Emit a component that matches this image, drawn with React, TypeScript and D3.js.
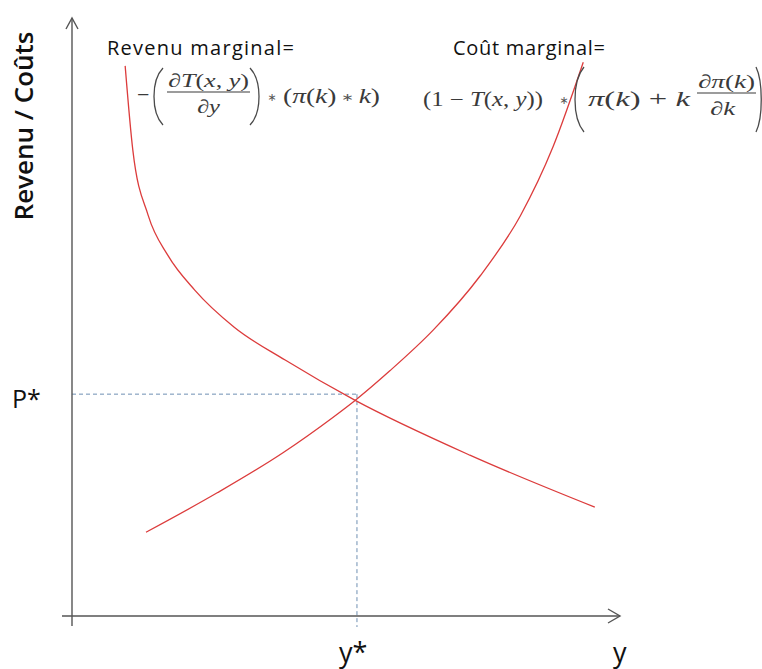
import React from "react";
import * as d3 from "d3";

// Marginal revenue curve (decreasing)
const revenueX = [0.97, 1.11, 1.39, 1.75, 2.24, 2.96, 3.89, 5.16, 7.26, 9.54];
const revenueY = [9.2, 7.79, 6.7, 6.03, 5.45, 4.83, 4.28, 3.61, 2.69, 1.82];

// Marginal cost curve (increasing)
const costX = [1.35, 2.65, 3.85, 4.76, 5.16, 5.8, 6.59, 7.45, 8.18, 8.78, 9.33];
const costY = [1.4, 2.06, 2.73, 3.32, 3.6, 4.1, 4.78, 5.69, 6.69, 7.85, 9.26];

// Equilibrium point
const equilibriumX = [5.2];
const equilibriumY = [3.71];

const axisTitles = ["Revenu / Coûts", "y"];
const equilibriumLabels = ["P*", "y*"];
const curveTitles = ["Revenu marginal=", "Coût marginal="];

const W = 762;
const H = 669;

export default function App() {
  const x = d3.scaleLinear().domain([0, 10]).range([72, 620]);
  const y = d3.scaleLinear().domain([0, 10]).range([616, 18]);

  const line = d3
    .line<[number, number]>()
    .x((d) => x(d[0]))
    .y((d) => y(d[1]))
    .curve(d3.curveMonotoneX);

  const revenue = revenueX.map((v, i) => [v, revenueY[i]] as [number, number]);
  const cost = costX.map((v, i) => [v, costY[i]] as [number, number]);

  const x0 = x(0);
  const y0 = y(0);
  const xEnd = x(10);
  const yEnd = y(10);
  const ex = x(equilibriumX[0]);
  const ey = y(equilibriumY[0]);

  const axisColor = "#555";
  const red = "#dc3c3c";
  const dash = "#6f8fb3";
  const mathFont = "'Liberation Serif', 'DejaVu Serif', serif";
  const sans = "'Open Sans', 'DejaVu Sans', sans-serif";
  const mathColor = "#3a3a3a";
  const parenColor = "#4a4a4a";
  const star = "'DejaVu Sans', sans-serif";

  const leftParen = (xr: number, top: number, bottom: number, depth: number) =>
    `M${xr},${top} C${xr - depth},${top + (bottom - top) * 0.22} ${xr - depth},${bottom - (bottom - top) * 0.22} ${xr},${bottom}`;
  const rightParen = (xl: number, top: number, bottom: number, depth: number) =>
    `M${xl},${top} C${xl + depth},${top + (bottom - top) * 0.22} ${xl + depth},${bottom - (bottom - top) * 0.22} ${xl},${bottom}`;

  return (
    <svg
      width={W}
      height={H}
      viewBox={`0 0 ${W} ${H}`}
      style={{ position: "absolute", left: 0, top: 0, display: "block", background: "#fff" }}
    >
      <rect x={0} y={0} width={W} height={H} fill="#fff" />

      {/* dashed guide lines */}
      <line x1={x0} y1={ey} x2={ex} y2={ey} stroke={dash} strokeWidth={1} strokeDasharray="4,3" />
      <line x1={ex} y1={ey} x2={ex} y2={y0 + 11} stroke={dash} strokeWidth={1} strokeDasharray="4,3" />

      {/* axes */}
      <line x1={x0} y1={y0 + 10} x2={x0} y2={yEnd} stroke={axisColor} strokeWidth={1.4} />
      <line x1={x0 - 10} y1={y0} x2={xEnd} y2={y0} stroke={axisColor} strokeWidth={1.4} />
      <path
        d={`M${x0 - 6},${yEnd + 11} L${x0},${yEnd} L${x0 + 6},${yEnd + 11}`}
        fill="none"
        stroke={axisColor}
        strokeWidth={1.4}
      />
      <path
        d={`M${xEnd - 12},${y0 - 7} L${xEnd},${y0} L${xEnd - 12},${y0 + 7}`}
        fill="none"
        stroke={axisColor}
        strokeWidth={1.4}
      />

      {/* curves */}
      <path d={line(revenue) || ""} fill="none" stroke={red} strokeWidth={1.3} />
      <path d={line(cost) || ""} fill="none" stroke={red} strokeWidth={1.3} />

      {/* axis titles */}
      <text
        transform="translate(33,126) rotate(-90)"
        textAnchor="middle"
        fontFamily={sans}
        fontSize={26}
        fontWeight={600}
        fill="#111"
      >
        {axisTitles[0]}
      </text>
      <text x={613} y={662} fontFamily={sans} fontSize={27} fill="#111">
        {axisTitles[1]}
      </text>

      {/* equilibrium labels */}
      <text x={12} y={408} fontFamily={sans} fontSize={25} fill="#111">
        {equilibriumLabels[0]}
      </text>
      <text x={339} y={662} fontFamily={sans} fontSize={27} fill="#111">
        {equilibriumLabels[1]}
      </text>

      {/* curve titles */}
      <text x={107} y={55} fontFamily={sans} fontSize={20} fill="#111" textLength={187}>
        {curveTitles[0]}
      </text>
      <text x={453} y={55} fontFamily={sans} fontSize={20} fill="#111" textLength={152}>
        {curveTitles[1]}
      </text>

      {/* Formula 1: −(∂T(x,y)/∂y) ∗ (π(k) ∗ k) */}
      <g fontFamily={mathFont} fill={mathColor}>
        <text x={137} y={102} fontSize={22}>−</text>
        <path d={leftParen(163, 68, 125, 12)} fill="none" stroke={parenColor} strokeWidth={1.3} />
        <text x={168} y={87} fontSize={19} textLength={81} lengthAdjust="spacingAndGlyphs">
          ∂<tspan fontStyle="italic">T</tspan>(<tspan fontStyle="italic">x</tspan>, <tspan fontStyle="italic">y</tspan>)
        </text>
        <line x1={167} y1={92} x2={250} y2={92} stroke={mathColor} strokeWidth={1.1} />
        <text x={197} y={113} fontSize={19} textLength={23} lengthAdjust="spacingAndGlyphs">
          ∂<tspan fontStyle="italic">y</tspan>
        </text>
        <path d={rightParen(250, 68, 125, 12)} fill="none" stroke={parenColor} strokeWidth={1.3} />
        <text x={272} y={101} fontSize={11} textAnchor="middle" fontFamily={star} fill="#555">∗</text>
        <text x={283} y={103} fontSize={20} textLength={97} lengthAdjust="spacingAndGlyphs">
          (<tspan fontStyle="italic">π</tspan>(<tspan fontStyle="italic">k</tspan>)
          <tspan fontFamily={star} fontSize={11} fill="#555" dy={-2}> ∗ </tspan>
          <tspan fontStyle="italic" dy={2}>k</tspan>)
        </text>
      </g>

      {/* Formula 2: (1 − T(x,y)) ∗ (π(k) + k ∂π(k)/∂k) */}
      <g fontFamily={mathFont} fill={mathColor}>
        <text x={423} y={106} fontSize={20} textLength={120} lengthAdjust="spacingAndGlyphs">
          (1 − <tspan fontStyle="italic">T</tspan>(<tspan fontStyle="italic">x</tspan>, <tspan fontStyle="italic">y</tspan>))
        </text>
        <text x={564} y={104} fontSize={11} textAnchor="middle" fontFamily={star} fill="#555">∗</text>
        <path d={leftParen(584, 67, 132, 12)} fill="none" stroke={parenColor} strokeWidth={1.3} />
        <text x={588} y={106} fontSize={20} textLength={102} lengthAdjust="spacingAndGlyphs">
          <tspan fontStyle="italic">π</tspan>(<tspan fontStyle="italic">k</tspan>) +  <tspan fontStyle="italic">k</tspan>
        </text>
        <text x={698} y={88} fontSize={19} textLength={57} lengthAdjust="spacingAndGlyphs">
          ∂<tspan fontStyle="italic">π</tspan>(<tspan fontStyle="italic">k</tspan>)
        </text>
        <line x1={697} y1={93} x2={756} y2={93} stroke={mathColor} strokeWidth={1.1} />
        <text x={710} y={115} fontSize={19} textLength={25} lengthAdjust="spacingAndGlyphs">
          ∂<tspan fontStyle="italic">k</tspan>
        </text>
        <path d={rightParen(756, 67, 132, 7)} fill="none" stroke={parenColor} strokeWidth={1.3} />
      </g>
    </svg>
  );
}
